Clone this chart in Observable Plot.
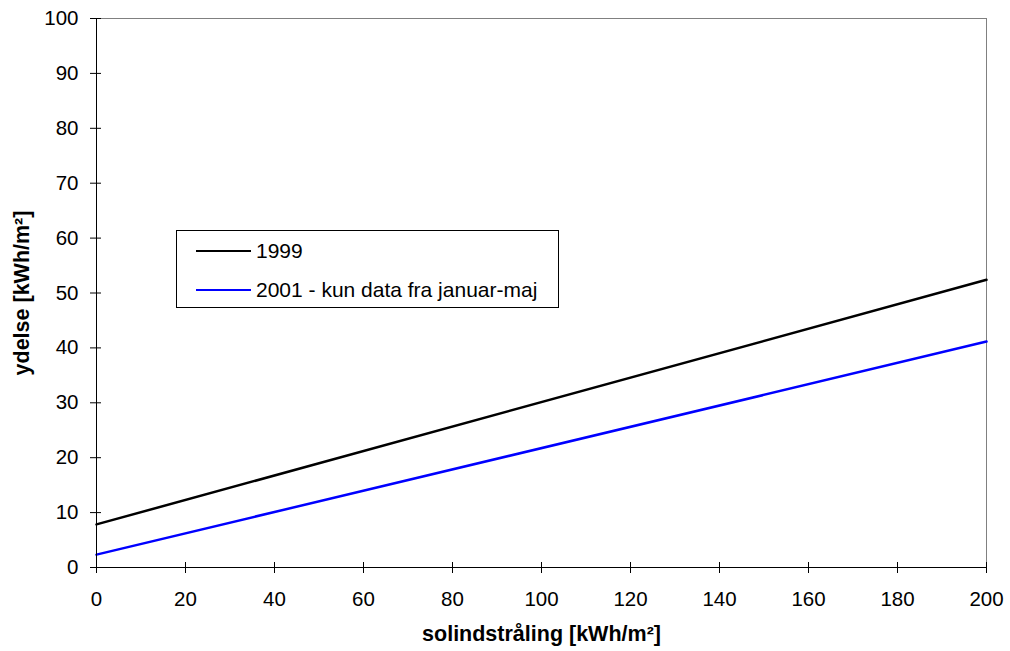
<!DOCTYPE html>
<html>
<head>
<meta charset="utf-8">
<script src="https://cdn.jsdelivr.net/npm/d3@7"></script>
<script src="https://cdn.jsdelivr.net/npm/@observablehq/plot@0.6"></script>
<style>
  html, body { margin: 0; padding: 0; background: #fff; }
  #wrap { position: relative; width: 1010px; height: 651px; font-family: "Liberation Sans", Arial, sans-serif; }
  #legend { position: absolute; left: 176px; top: 230px; width: 383px; height: 78px; border: 1px solid #000; background: #fff; font-size: 21px; color: #000; box-sizing: border-box; }
  .row { position: absolute; left: 19px; height: 24px; display: flex; align-items: center; }
  .sw { width: 55px; height: 0; border-top: 2px solid; margin-right: 5px; }
</style>
</head>
<body>
<div id="wrap"></div>
<script>
const series = ["1999", "2001 - kun data fra januar-maj"];
const colors = ["#000000", "#0000ff"];
const xValues = [0, 200];
const y1999 = [7.85, 52.4];
const y2001 = [2.35, 41.15];
const xTicks = [0, 20, 40, 60, 80, 100, 120, 140, 160, 180, 200];
const yTicks = [0, 10, 20, 30, 40, 50, 60, 70, 80, 90, 100];

const data = [
  ...xValues.map((x, i) => ({x, y: y1999[i], s: series[0]})),
  ...xValues.map((x, i) => ({x, y: y2001[i], s: series[1]}))
];

const W = 1010, H = 651, mL = 96, mR = 24, mT = 18, mB = 84;
const fw = W - mL - mR, fh = H - mT - mB;

const chart = Plot.plot({
  width: W,
  height: H,
  marginLeft: mL,
  marginRight: mR,
  marginTop: mT,
  marginBottom: mB,
  style: {fontFamily: '"Liberation Sans", Arial, sans-serif', fontSize: "20.5px", color: "#000", background: "#fff"},
  x: {domain: [0, 200], ticks: xTicks},
  y: {domain: [0, 100], ticks: yTicks},
  color: {domain: series, range: colors},
  marks: [
    Plot.ruleY([100], {stroke: "#808080", strokeWidth: 1}),
    Plot.ruleX([200], {stroke: "#808080", strokeWidth: 1}),
    Plot.line(data, {x: "x", y: "y", z: "s", stroke: "s", strokeWidth: 2.5}),
    Plot.ruleX([0], {stroke: "#000", strokeWidth: 1}),
    Plot.ruleY([0], {stroke: "#000", strokeWidth: 1}),
    Plot.tickY(yTicks, {y: d => d, insetRight: fw - 5, stroke: "#000"}),
    Plot.tickX(xTicks, {x: d => d, insetTop: fh - 5, stroke: "#000"}),
    Plot.axisX({ticks: xTicks, tickSize: 6, tickPadding: 18, fontSize: 20.5, label: null, stroke: "#000"}),
    Plot.axisY({ticks: yTicks, tickSize: 6, tickPadding: 12, fontSize: 20.5, label: null, stroke: "#000"}),
    Plot.text(["solindstråling [kWh/m²]"], {frameAnchor: "bottom", lineAnchor: "middle", textAnchor: "middle", dy: 67, fontWeight: "bold", fontSize: 21.5}),
    Plot.text(["ydelse [kWh/m²]"], {frameAnchor: "left", lineAnchor: "middle", textAnchor: "middle", dx: -74, rotate: -90, fontWeight: "bold", fontSize: 21.5})
  ]
});
chart.style.overflow = "visible";
const wrap = document.getElementById("wrap");
wrap.appendChild(chart);

const legend = document.createElement("div");
legend.id = "legend";
series.forEach((s, i) => {
  const row = document.createElement("div");
  row.className = "row";
  row.style.top = (i === 0 ? 8 : 47) + "px";
  const sw = document.createElement("div");
  sw.className = "sw";
  sw.style.borderTopColor = colors[i];
  const t = document.createElement("span");
  t.textContent = s;
  row.appendChild(sw);
  row.appendChild(t);
  legend.appendChild(row);
});
wrap.appendChild(legend);
</script>
</body>
</html>
